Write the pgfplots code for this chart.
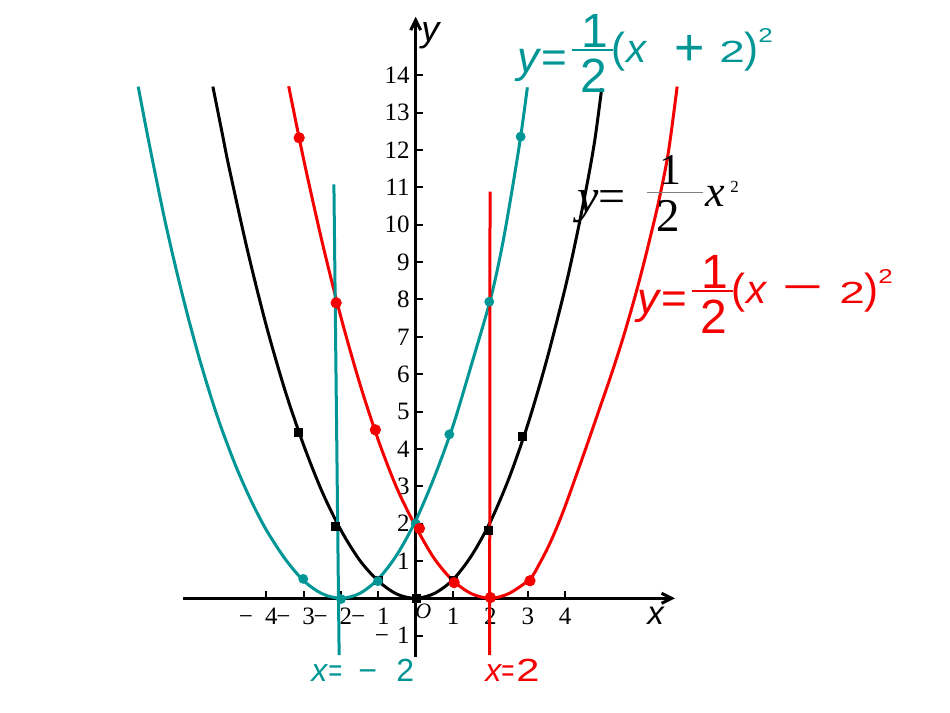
\documentclass[border=0pt]{standalone}
\usepackage{fontspec}
\setmainfont{Liberation Serif}
\setsansfont{Liberation Sans}
\usepackage{graphicx}
\usepackage{pgfplots}
\pgfplotsset{compat=1.18}
\usetikzlibrary{arrows.meta}

\definecolor{tealc}{RGB}{0,150,150}
\definecolor{redc}{RGB}{245,0,0}
\newcommand\fs[1]{\fontsize{#1}{#1}\selectfont}

\begin{document}
\begin{tikzpicture}
% canvas: 950 x 713 px, 1 px = 0.5pt
\path[use as bounding box] (0,0) rectangle (475pt,356.5pt);
\begin{axis}[
  at={(207.85pt,57.35pt)}, anchor=origin,
  x=18.675pt, y=18.675pt,
  xmin=-6.22, xmax=6.94, ymin=-1.56, ymax=15.57,
  axis lines=middle,
  axis line style={line width=1.5pt, -{Straight Barb[length=5pt,width=5pt]}},
  clip=false,
  xtick={-4,-3,-2,-1,1,2,3,4},
  xticklabels={\llap{−\kern1pt}\kern5pt 4,\llap{−\kern1pt}\kern5pt 3,\llap{−\kern1pt}\kern5pt 2,\llap{−\kern1pt}\kern5pt 1,1,2,3,4},
  ytick={-1,1,2,3,4,5,6,7,8,9,10,11,12,13,14},
  yticklabels={−\kern4pt 1,1,2,3,4,5,6,7,8,9,10,11,12,13,14},
  tick align=inside,
  major tick length=3.5pt,
  tick style={line width=1pt, black},
  xticklabel style={font=\fs{12.5}, anchor=north, inner sep=0pt, yshift=-4.6pt},
  yticklabel style={font=\fs{12.5}, anchor=east, inner sep=0pt, xshift=-2.9pt},
]
% y = x^2/2
\addplot[black, line width=1.5pt, smooth] coordinates {
  (-5.43,13.70) (-5.2,12.55) (-5.0,11.55) (-4.5,9.3) (-4.0,7.3) (-3.5,5.57)
  (-3.0,4.1) (-2.5,2.84) (-2.0,1.82) (-1.5,1.02) (-1.0,0.46) (-0.5,0.11) (0,0)
  (0.5,0.13) (1.0,0.5) (1.5,1.15) (2.0,2.05) (2.5,3.22) (3.0,4.65) (3.5,6.35)
  (4.0,8.3) (4.3,9.65) (4.6,11.15) (4.8,12.3) (4.98,13.65)
};
% y = (x+2)^2/2
\addplot[tealc, line width=1.5pt, smooth] coordinates {
  (-7.43,13.70) (-7.2,12.5) (-6.95,11.25) (-6.7,10.05) (-6.4,8.75) (-6.1,7.55)
  (-5.8,6.45) (-5.5,5.45) (-5.2,4.55) (-4.8,3.5) (-4.4,2.6) (-4.0,1.83)
  (-3.5,1.06) (-3.0,0.47) (-2.5,0.12) (-2.0,0) (-1.5,0.13) (-1.0,0.52)
  (-0.5,1.17) (0,2.08) (0.5,3.25) (1.0,4.62) (1.5,6.28) (2.0,8.0) (2.3,9.35)
  (2.55,10.75) (2.81,12.36) (2.99,13.68)
};
% y = (x-2)^2/2
\addplot[redc, line width=1.5pt, smooth] coordinates {
  (-3.40,13.71) (-3.0,11.75) (-2.5,9.52) (-2.0,7.52) (-1.5,5.76) (-1.0,4.23)
  (-0.5,2.94) (0,1.92) (0.5,1.06) (1.0,0.47) (1.5,0.12) (2,0) (2.5,0.13)
  (3.06,0.52) (3.3,0.9) (3.55,1.38) (3.8,1.95) (4.04,2.57) (4.5,3.86)
  (4.93,5.1) (5.25,6.03) (5.56,7.0) (5.85,8.0) (6.09,8.9) (6.3,9.75)
  (6.5,10.6) (6.76,11.91) (7.0,13.7)
};
% tabulated points
\addplot[only marks, mark=square*, mark size=2pt, black] coordinates {
  (-3.14,4.43) (-2.16,1.92) (-1.0,0.48) (0.02,0) (1.0,0.47) (1.94,1.83) (2.85,4.33)
};
\addplot[only marks, mark=*, mark size=2.25pt, tealc] coordinates {
  (-3.01,0.52) (-2.0,-0.02) (-1.01,0.46) (0,2.0) (0.9,4.39) (1.97,7.94) (2.81,12.36)
};
\addplot[only marks, mark=*, mark size=2.6pt, redc] coordinates {
  (-3.12,12.33) (-2.13,7.91) (-1.08,4.51) (0.1,1.87) (1.03,0.42) (2.0,0.02) (3.06,0.47)
};
% axes of symmetry
\addplot[tealc, line width=1.5pt] coordinates {(-2.19,11.08) (-2.05,-1.52)};
\addplot[redc, line width=1.5pt] coordinates {(1.99,10.89) (1.98,-1.52)};
\end{axis}

% labels, placed in pixel coordinates of the 950x713 canvas
\begin{scope}[shift={(0pt,356.5pt)}, x=0.5pt, y=-0.5pt]
  \tikzset{every node/.style={inner sep=0pt}}
  % axis names and origin
  \node[anchor=base west] at (421,42) {\sffamily\fs{18}\itshape y};
  \node[anchor=base west] at (647,625) {\sffamily\fs{16.5}\itshape x};
  \node[anchor=base west] at (415,619) {\fs{11}\itshape O};

  % y = 1/2 (x+2)^2
  \begin{scope}[tealc]
    \node[anchor=base west] at (517,73) {\sffamily\fs{22}\textit{y}=};
    \node[anchor=base] at (595,48) {\sffamily\fs{24}1};
    \node[anchor=base] at (594,93) {\sffamily\fs{24}2};
    \draw[line width=1.2pt] (572,50) -- (613,50);
    \node[anchor=base west] at (611,63) {\sffamily\fs{21}(};
    \node[anchor=base west] at (626,63) {\sffamily\fs{20}\textit{x}};
    \node[anchor=center] at (689.5,51) {\sffamily\fs{26}+};
    \node[anchor=base west] at (719,63) {\sffamily\fs{17}\scalebox{1.35}[0.9]{2}};
    \node[anchor=base west] at (744,63) {\sffamily\fs{21})};
    \node[anchor=base west] at (758,43) {\sffamily\fs{10}\scalebox{1.3}[1]{2}};
  \end{scope}

  % y = 1/2 x^2
  \node[anchor=base west] at (577,213) {\fs{24}\textit{y}=};
  \node[anchor=base] at (670,185) {\fs{22}1};
  \node[anchor=base] at (668,232) {\fs{23.5}2};
  \draw[gray, line width=0.6pt] (647,192.7) -- (703,192.7);
  \node[anchor=base west] at (705,207) {\fs{22}\textit{x}};
  \node[anchor=base west] at (730,193) {\fs{8.5}2};

  % y = 1/2 (x-2)^2
  \begin{scope}[redc]
    \node[anchor=base west] at (637,314) {\sffamily\fs{22}\textit{y}=};
    \node[anchor=base] at (715,289) {\sffamily\fs{24}1};
    \node[anchor=base] at (714,334) {\sffamily\fs{24}2};
    \draw[line width=1.2pt] (692,291) -- (733,291);
    \node[anchor=base west] at (731,304) {\sffamily\fs{21}(};
    \node[anchor=base west] at (746,304) {\sffamily\fs{20}\textit{x}};
    \node[anchor=center] at (802.5,293.5) {\sffamily\fs{20}\scalebox{1.75}[1]{−}};
    \node[anchor=base west] at (839,304) {\sffamily\fs{17}\scalebox{1.35}[0.9]{2}};
    \node[anchor=base west] at (864,304) {\sffamily\fs{21})};
    \node[anchor=base west] at (878,284) {\sffamily\fs{10}\scalebox{1.3}[1]{2}};
  \end{scope}

  % x = -2 and x = 2
  \begin{scope}[tealc]
    \node[anchor=base west] at (311,682) {\sffamily\fs{16}\textit{x}};
    \node[anchor=base west] at (328,682) {\sffamily\fs{16}\scalebox{0.75}[1]{=}};
    \node[anchor=base west] at (358,682) {\sffamily\fs{16}−};
    \node[anchor=base west] at (396,682) {\sffamily\fs{16}2};
  \end{scope}
  \begin{scope}[redc]
    \node[anchor=base west] at (485,682) {\sffamily\fs{16}\textit{x}};
    \node[anchor=base west] at (501,682) {\sffamily\fs{16}\scalebox{0.7}[1]{=}};
    \node[anchor=base west] at (516,682) {\sffamily\fs{16}\scalebox{1.3}[1]{2}};
  \end{scope}
\end{scope}
\end{tikzpicture}
\end{document}
